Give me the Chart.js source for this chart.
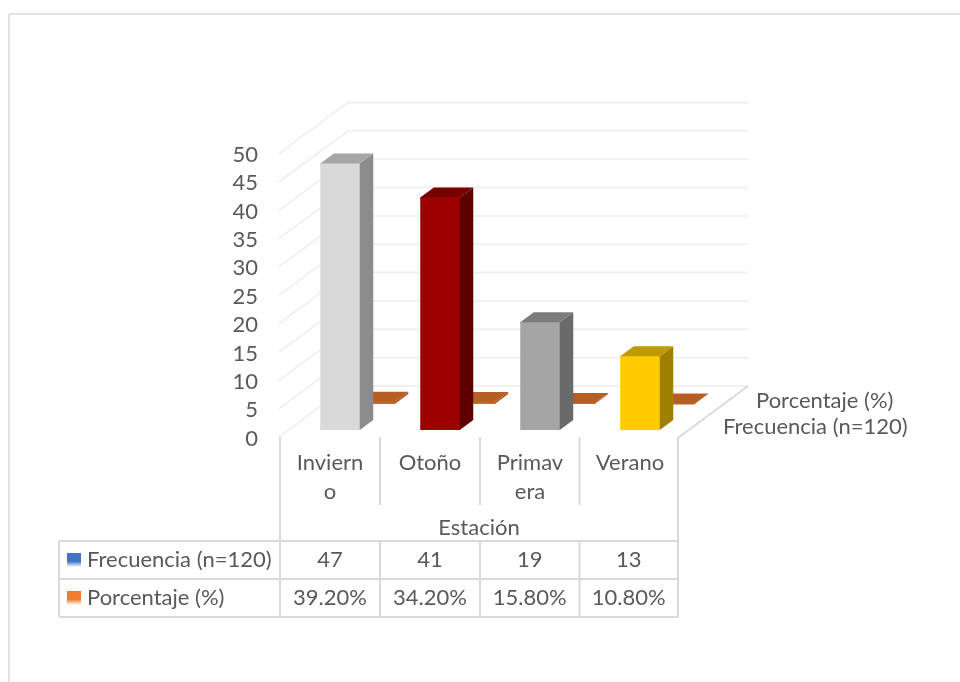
<!DOCTYPE html>
<html>
<head>
<meta charset="utf-8">
<title>Estación</title>
<script src="https://cdn.jsdelivr.net/npm/chart.js@4"></script>
<style>
    html, body { margin: 0; padding: 0; background: #fff; }
    #caja { position: relative; width: 960px; height: 682px; overflow: hidden; }
</style>
</head>
<body>
<div id="caja"><canvas id="grafico" width="960" height="682"></canvas></div>
<script>
const categorias = [['Inviern', 'o'], ['Otoño'], ['Primav', 'era'], ['Verano']];
const frecuencia = [47, 41, 19, 13];
const porcentaje = [0.392, 0.342, 0.158, 0.108];
const porcentajeTexto = ['39.20%', '34.20%', '15.80%', '10.80%'];
const nombreFrecuencia = 'Frecuencia (n=120)';
const nombrePorcentaje = 'Porcentaje (%)';
const tituloEje = 'Estación';

const colorFrente = ['#d9d9d9', '#9c0000', '#a5a5a5', '#ffcc00'];
const colorLado = ['#8c8c8c', '#5e0000', '#6a6a6a', '#9e7f00'];
const colorTapa = ['#a6a6a6', '#760000', '#7c7c7c', '#bf9900'];

const fuente = '22px Lato';
const colorTexto = '#595959';
const colorLinea = '#d9d9d9';
const colorMalla = '#f0f0f0';

// profundidad de cada barra y separacion entre las dos series
const prof = { x: 13.5, y: 10 };
const serie2 = { x: 35, y: 26 };

function linea(ctx, x1, y1, x2, y2, color, ancho) {
    ctx.strokeStyle = color;
    ctx.lineWidth = ancho;
    ctx.beginPath();
    ctx.moveTo(x1, y1);
    ctx.lineTo(x2, y2);
    ctx.stroke();
}

function poligono(ctx, puntos, color) {
    ctx.fillStyle = color;
    ctx.beginPath();
    puntos.forEach((p, i) => i ? ctx.lineTo(p[0], p[1]) : ctx.moveTo(p[0], p[1]));
    ctx.closePath();
    ctx.fill();
}

function caja3d(ctx, bar, lado, tapa) {
    const izq = bar.x - bar.width / 2;
    const der = bar.x + bar.width / 2;
    // el lado entra un poco bajo el frente para que no quede rendija
    poligono(ctx, [[der - 1, bar.y], [der, bar.y], [der + prof.x, bar.y - prof.y], [der + prof.x, bar.base - prof.y], [der, bar.base], [der - 1, bar.base]], lado);
    poligono(ctx, [[izq, bar.y + 1], [izq, bar.y], [izq + prof.x, bar.y - prof.y], [der + prof.x, bar.y - prof.y], [der, bar.y], [der, bar.y + 1]], tapa);
}

const plugin3d = {
    id: 'plugin3d',
    beforeDatasetsDraw(chart) {
        const ctx = chart.ctx;
        const y = chart.scales.y;
        const izq = chart.scales.x.left - 10;
        const der = chart.scales.x.right - 12;
        ctx.save();
        y.ticks.forEach(t => {
            const py = y.getPixelForValue(t.value);
            linea(ctx, izq - 1, py + 7, izq + 68, py - 44, colorMalla, 2);
            linea(ctx, izq + 68, py - 44, der + 70, py - 44, colorMalla, 2);
        });
        // borde derecho del piso
        const cero = y.getPixelForValue(0);
        linea(ctx, der, cero + 8, der + 70, cero - 44, colorLinea, 2);
        ctx.restore();
    },
    beforeDatasetDraw(chart, args) {
        const ctx = chart.ctx;
        const barras = chart.getDatasetMeta(args.index).data;
        if (args.index === 1) {
            ctx.save();
            ctx.translate(serie2.x, -serie2.y);
            barras.forEach(b => caja3d(ctx, b, '#a85520', '#b65f25'));
        } else {
            barras.forEach((b, i) => caja3d(ctx, b, colorLado[i], colorTapa[i]));
        }
    },
    afterDatasetDraw(chart, args) {
        if (args.index === 1) chart.ctx.restore();
    },
    afterDraw(chart) {
        const ctx = chart.ctx;
        const izq = chart.scales.x.left - 10;
        const anchos = [izq, izq + 100, izq + 200, izq + 299.5, izq + 398];
        const filas = [541, 579, 617];
        ctx.save();

        // marco exterior de la imagen
        linea(ctx, 9, 14, 960, 14, '#e2e2e2', 2);
        linea(ctx, 9, 14, 9, 682, '#e2e2e2', 2);

        // tabla de datos
        filas.forEach(f => linea(ctx, 59, f, anchos[4], f, colorLinea, 2));
        linea(ctx, 59, filas[0], 59, filas[2], colorLinea, 2);
        anchos.forEach((a, i) => {
            const largo = (i === 0 || i === 4);
            linea(ctx, a, 437, a, largo ? filas[2] : 505, colorLinea, 2);
            if (!largo) linea(ctx, a, filas[0], a, filas[2], colorLinea, 2);
        });

        ctx.font = fuente;
        ctx.fillStyle = colorTexto;
        ctx.textBaseline = 'middle';
        ctx.textAlign = 'center';
        ctx.fillText(tituloEje, (anchos[0] + anchos[4]) / 2, 528);
        frecuencia.forEach((v, i) => {
            const c = (anchos[i] + anchos[i + 1]) / 2;
            ctx.fillText(String(v), c, 560);
            ctx.fillText(porcentajeTexto[i], c, 598);
        });

        ctx.textAlign = 'left';
        ctx.fillText(nombreFrecuencia, 87, 560);
        ctx.fillText(nombrePorcentaje, 87, 598);
        ctx.fillText(nombrePorcentaje, 756, 401);
        ctx.fillText(nombreFrecuencia, 723, 427);

        // claves de la leyenda con degradado
        [['#4472c4', 553], ['#ed7d31', 591]].forEach(k => {
            const g = ctx.createLinearGradient(0, k[1], 0, k[1] + 14);
            g.addColorStop(0, k[0]);
            g.addColorStop(0.6, k[0]);
            g.addColorStop(1, '#ffffff');
            ctx.fillStyle = g;
            ctx.fillRect(67, k[1], 14, 14);
        });
        ctx.restore();
    }
};

new Chart(document.getElementById('grafico').getContext('2d'), {
    type: 'bar',
    data: {
        labels: categorias,
        datasets: [
            {
                label: nombreFrecuencia,
                data: frecuencia,
                backgroundColor: colorFrente,
                grouped: false
            },
            {
                label: nombrePorcentaje,
                data: porcentaje,
                backgroundColor: '#c8692a',
                grouped: false,
                clip: false
            }
        ]
    },
    options: {
        responsive: false,
        animation: false,
        layout: { padding: { top: 146.5, right: 270, left: 0, bottom: 0 } },
        plugins: {
            legend: { display: false },
            tooltip: { enabled: false }
        },
        datasets: { bar: { categoryPercentage: 1, barPercentage: 0.395 } },
        scales: {
            x: {
                grid: { display: false, drawTicks: false },
                border: { display: false },
                ticks: {
                    font: { family: 'Lato', size: 22, lineHeight: 1.32 },
                    color: colorTexto,
                    padding: 18,
                    maxRotation: 0,
                    autoSkip: false,
                    labelOffset: -10
                },
                afterFit(escala) { escala.height = 252; }
            },
            y: {
                min: 0,
                max: 50,
                grid: { display: false, drawTicks: false },
                border: { display: false },
                ticks: {
                    stepSize: 5,
                    autoSkip: false,
                    font: { family: 'Lato', size: 22 },
                    color: colorTexto,
                    padding: 32,
                    labelOffset: 8.5
                },
                afterFit(escala) { escala.width = 290; }
            }
        }
    },
    plugins: [plugin3d]
});
</script>
</body>
</html>
